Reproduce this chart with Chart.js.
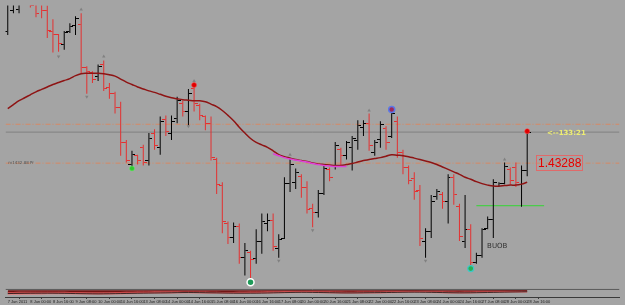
<!DOCTYPE html>
<html>
<head>
<meta charset="utf-8">
<script src="https://cdn.jsdelivr.net/npm/chart.js@4.4.0/dist/chart.umd.min.js"></script>
<style>
html, body { margin: 0; padding: 0; background: #a4a4a4; overflow: hidden; }
canvas { display: block; background: #a4a4a4; }
</style>
</head>
<body>
<canvas id="priceChart" width="625" height="305"></canvas>
<script>
// EURUSD H4, 7 Jun - 28 Jun 2011, one entry per bar
const opens = [1.4598,1.4640,1.4642,1.4690,1.4680,1.4654,1.4658,1.4640,1.4598,1.4590,
1.4570,1.4598,1.4610,1.4612,1.4524,1.4514,1.4506,1.4530,1.4482,1.4470,
1.4442,1.4370,1.4326,1.4344,1.4360,1.4334,1.4390,1.4360,1.4418,1.4390,
1.4420,1.4450,1.4434,1.4480,1.4446,1.4424,1.4410,1.4336,1.4284,1.4206,
1.4178,1.4200,1.4136,1.4146,1.4134,1.4170,1.4206,1.4212,1.4154,1.4176,
1.4288,1.4290,1.4302,1.4280,1.4236,1.4228,1.4266,1.4316,1.4324,1.4356,
1.4344,1.4360,1.4374,1.4402,1.4410,1.4350,1.4376,1.4400,1.4384,1.4414,
1.4350,1.4320,1.4298,1.4274,1.4170,1.4190,1.4260,1.4264,1.4250,1.4300,
1.4240,1.4170,1.4194,1.4126,1.4140,1.4196,1.4214,1.4282,1.4288,1.4316,
1.4320,1.4286,1.4314];
const highs = [1.4680,1.4670,1.4674,1.4700,1.4690,1.4660,1.4666,1.4650,1.4622,1.4592,
1.4598,1.4614,1.4628,1.4634,1.4526,1.4516,1.4530,1.4538,1.4492,1.4474,
1.4454,1.4376,1.4354,1.4346,1.4366,1.4390,1.4398,1.4424,1.4426,1.4426,
1.4464,1.4456,1.4480,1.4490,1.4450,1.4426,1.4424,1.4340,1.4290,1.4210,
1.4208,1.4206,1.4166,1.4150,1.4194,1.4226,1.4226,1.4226,1.4184,1.4300,
1.4340,1.4318,1.4306,1.4292,1.4246,1.4274,1.4326,1.4320,1.4372,1.4360,
1.4374,1.4384,1.4416,1.4416,1.4430,1.4376,1.4414,1.4404,1.4436,1.4424,
1.4356,1.4324,1.4310,1.4284,1.4196,1.4264,1.4276,1.4270,1.4306,1.4306,
1.4246,1.4264,1.4204,1.4146,1.4196,1.4220,1.4296,1.4290,1.4330,1.4320,
1.4330,1.4324,1.4394];
const lows = [1.4590,1.4634,1.4634,1.4652,1.4646,1.4626,1.4624,1.4584,1.4554,1.4556,
1.4560,1.4594,1.4590,1.4512,1.4470,1.4492,1.4496,1.4476,1.4460,1.4430,
1.4344,1.4330,1.4318,1.4326,1.4324,1.4324,1.4356,1.4346,1.4384,1.4376,
1.4410,1.4424,1.4406,1.4434,1.4416,1.4396,1.4334,1.4266,1.4186,1.4164,
1.4166,1.4124,1.4100,1.4088,1.4124,1.4144,1.4190,1.4150,1.4136,1.4174,
1.4270,1.4276,1.4258,1.4226,1.4198,1.4218,1.4264,1.4292,1.4316,1.4324,
1.4336,1.4314,1.4356,1.4384,1.4354,1.4344,1.4360,1.4356,1.4380,1.4340,
1.4306,1.4286,1.4254,1.4160,1.4136,1.4176,1.4254,1.4236,1.4206,1.4244,
1.4170,1.4156,1.4120,1.4124,1.4136,1.4194,1.4176,1.4280,1.4286,1.4286,
1.4280,1.4240,1.4302];
const closes = [1.4660,1.4656,1.4662,1.4666,1.4650,1.4634,1.4640,1.4600,1.4590,1.4572,
1.4596,1.4608,1.4624,1.4524,1.4516,1.4500,1.4526,1.4480,1.4470,1.4442,
1.4370,1.4334,1.4346,1.4334,1.4330,1.4380,1.4364,1.4414,1.4394,1.4414,
1.4456,1.4434,1.4470,1.4450,1.4426,1.4410,1.4340,1.4286,1.4210,1.4178,
1.4200,1.4136,1.4150,1.4132,1.4170,1.4210,1.4212,1.4158,1.4174,1.4288,
1.4326,1.4310,1.4280,1.4234,1.4228,1.4266,1.4318,1.4300,1.4364,1.4344,
1.4370,1.4378,1.4406,1.4410,1.4364,1.4370,1.4408,1.4370,1.4430,1.4350,
1.4320,1.4294,1.4270,1.4176,1.4190,1.4250,1.4270,1.4250,1.4300,1.4264,
1.4180,1.4194,1.4126,1.4140,1.4194,1.4214,1.4290,1.4288,1.4322,1.4294,
1.4290,1.4314,1.4392];
// moving average (dark red curve)
const ma = [1.4440,1.4448,1.4456,1.4462,1.4468,1.4474,1.4479,1.4484,1.4489,1.4493,
1.4497,1.4501,1.4507,1.4511,1.4512,1.4512,1.4512,1.4511,1.4509,1.4506,
1.4500,1.4494,1.4489,1.4484,1.4480,1.4476,1.4473,1.4469,1.4465,1.4462,
1.4460,1.4458,1.4457,1.4456,1.4456,1.4454,1.4449,1.4444,1.4436,1.4426,
1.4415,1.4402,1.4390,1.4379,1.4371,1.4366,1.4361,1.4354,1.4346,1.4342,
1.4339,1.4336,1.4334,1.4332,1.4329,1.4327,1.4326,1.4325,1.4324,1.4324,
1.4326,1.4328,1.4331,1.4334,1.4336,1.4338,1.4340,1.4343,1.4346,1.4345,
1.4344,1.4342,1.4339,1.4336,1.4333,1.4330,1.4326,1.4321,1.4316,1.4311,
1.4306,1.4300,1.4296,1.4291,1.4287,1.4284,1.4282,1.4282,1.4283,1.4284,
1.4284,1.4286,1.4290];
// magenta stretch on the average
const pinkStart = 47;
const pinkLine = [1.4348,1.4344,1.4340,1.4337,1.4335,1.4333,1.4331,1.4328,1.4326,1.4324,1.4323,1.4322,1.4322,1.4322];

// time axis, one label every 4 bars
const tickStep = 4;
const tickLabels = ['7 Jun 2011','8 Jun 00:00','8 Jun 16:00','9 Jun 08:00','10 Jun 00:00','10 Jun 16:00',
  '13 Jun 08:00','14 Jun 00:00','14 Jun 16:00','15 Jun 08:00','16 Jun 00:00','16 Jun 16:00',
  '17 Jun 08:00','20 Jun 00:00','20 Jun 16:00','21 Jun 08:00','22 Jun 00:00','22 Jun 16:00',
  '23 Jun 08:00','24 Jun 00:00','24 Jun 16:00','27 Jun 08:00','28 Jun 00:00','28 Jun 16:00'];

// levels
const pivotLevel = 1.43288;
const upperLevel = 1.4408;
const bidLevel = 1.4392;
const greenLevel = 1.4242;
const greenFrom = 83, greenTo = 95;

// marks on bars
const upFractalBars = [13, 17, 33, 50, 64, 88];
const upFractalVals = [1.4642, 1.4546, 1.4496, 1.4346, 1.4436, 1.4336];
const downFractalBars = [9, 14, 32, 48, 54, 74];
const downFractalVals = [1.4546, 1.4464, 1.4404, 1.4130, 1.4192, 1.4130];
const redDotBars = [33, 92];
const redDotVals = [1.4488, 1.4394];
const blueDotBars = [68];
const blueDotVals = [1.4438];
const greenDotBars = [22];
const greenDotVals = [1.4318];
const ringDotBars = [43];
const ringDotVals = [1.4086];
const tealDotBars = [82];
const tealDotVals = [1.4114];

// sub window oscillator, sampled every 4 bars
const indDark = [0.72,0.75,0.78,0.74,0.7,0.74,0.8,0.84,0.8,0.78,0.74,0.8,0.84,0.86,0.82,0.78,0.8,0.84,0.86,0.82,0.78,0.82,0.86,0.88];
const indRed = [0.35,0.4,0.45,0.42,0.38,0.42,0.5,0.55,0.58,0.52,0.48,0.52,0.58,0.62,0.58,0.52,0.56,0.6,0.64,0.6,0.55,0.6,0.64,0.68];
const indLine = [0.5,0.55,0.55,0.5,0.45,0.5,0.55,0.6,0.65,0.6,0.55,0.55,0.62,0.68,0.64,0.58,0.62,0.66,0.7,0.66,0.6,0.64,0.7,0.76];

// texts
const timerText = '<--133:21';
const timerAt = { x: 95.5, y: 1.4389 };
const signalText = 'BUOB';
const signalAt = { x: 84.9, y: 1.4159 };
const leftText = 'm1432.88 Pr';
const leftAt = { x: 0.1, y: 1.4330 };
const boxAt = 93.6;

const xMin = -0.4, xMax = 108.35;
const RED = 'rgb(228,48,48)';
const BLACK = '#000000';

function tickImg(color, left) {
    const c = document.createElement('canvas');
    c.width = 7;
    c.height = 1;
    const g = c.getContext('2d');
    g.fillStyle = color;
    g.fillRect(left ? 0 : 4, 0, 3, 1);
    return c;
}
const openRed = tickImg(RED, true), openBlack = tickImg(BLACK, true);
const closeRed = tickImg(RED, false), closeBlack = tickImg(BLACK, false);

const isUp = i => closes[i] >= opens[i];
const pts = (idx, vals) => idx.map((b, k) => ({ x: b, y: vals[k] }));
const hline = (y, a, b) => [{ x: a, y: y }, { x: b, y: y }];
const indX = i => i * tickStep;

const notes = {
    id: 'notes',
    afterDatasetsDraw(chart) {
        const { ctx, scales: { x, y } } = chart;
        ctx.save();
        // level box
        const bx = x.getPixelForValue(boxAt), by = y.getPixelForValue(pivotLevel);
        const boxText = pivotLevel.toFixed(5);
        ctx.font = '12px "Liberation Sans", Arial, sans-serif';
        const w = ctx.measureText(boxText).width;
        ctx.strokeStyle = '#e06a6a';
        ctx.lineWidth = 1;
        ctx.strokeRect(Math.round(bx) + 0.5, Math.round(by) - 7.5, Math.round(w) + 3, 15);
        ctx.fillStyle = '#e60000';
        ctx.textBaseline = 'middle';
        ctx.textAlign = 'left';
        ctx.fillText(boxText, Math.round(bx) + 2, Math.round(by) + 1);
        // timer
        ctx.font = 'bold 7px "DejaVu Sans", sans-serif';
        ctx.fillStyle = '#eeee70';
        ctx.fillText(timerText, x.getPixelForValue(timerAt.x), y.getPixelForValue(timerAt.y));
        // signal
        ctx.font = '7px "DejaVu Sans", sans-serif';
        ctx.fillStyle = '#303030';
        ctx.fillText(signalText, x.getPixelForValue(signalAt.x), y.getPixelForValue(signalAt.y));
        // left level tag
        ctx.font = '4px "DejaVu Sans", sans-serif';
        ctx.fillStyle = '#505050';
        ctx.fillText(leftText, x.getPixelForValue(leftAt.x), y.getPixelForValue(leftAt.y));
        ctx.restore();
    }
};

const ctx = document.getElementById('priceChart').getContext('2d');
const chart = new Chart(ctx, {
    type: 'bar',
    data: {
        datasets: [
            {
                type: 'line', label: 'upper', order: 20,
                data: hline(upperLevel, xMin, xMax),
                borderColor: 'rgb(214,136,100)', borderWidth: 1, borderDash: [5, 2, 1, 2],
                pointRadius: 0
            },
            {
                type: 'line', label: 'pivot', order: 20,
                data: hline(pivotLevel, xMin, xMax),
                borderColor: 'rgb(214,136,100)', borderWidth: 1, borderDash: [5, 2, 1, 2],
                pointRadius: 0
            },
            {
                type: 'line', label: 'bid', order: 20,
                data: hline(bidLevel, xMin, xMax),
                borderColor: 'rgb(128,128,128)', borderWidth: 1,
                pointRadius: 0
            },
            {
                type: 'line', label: 'green', order: 19,
                data: hline(greenLevel, greenFrom, greenTo),
                borderColor: '#33d633', borderWidth: 1,
                pointRadius: 0
            },
            {
                label: 'range', order: 10,
                data: opens.map((_, i) => ({ x: i, y: [lows[i], highs[i]] })),
                backgroundColor: opens.map((_, i) => isUp(i) ? BLACK : RED),
                barThickness: 1,
                borderWidth: 0,
                inflateAmount: 0
            },
            {
                type: 'line', label: 'open', order: 9, showLine: false,
                data: opens.map((v, i) => ({ x: i, y: v })),
                pointStyle: c => isUp(c.dataIndex) ? openBlack : openRed,
                pointRadius: 3
            },
            {
                type: 'line', label: 'close', order: 9, showLine: false,
                data: closes.map((v, i) => ({ x: i, y: v })),
                pointStyle: c => isUp(c.dataIndex) ? closeBlack : closeRed,
                pointRadius: 3
            },
            {
                type: 'line', label: 'MA', order: 5,
                data: ma.map((v, i) => ({ x: i, y: v })),
                borderColor: '#8e1414', borderWidth: 1.5, tension: 0.4,
                pointRadius: 0
            },
            {
                type: 'line', label: 'pink', order: 4,
                data: pinkLine.map((v, k) => ({ x: pinkStart + k, y: v })),
                borderColor: '#e040d8', borderWidth: 1.5, tension: 0.4,
                pointRadius: 0
            },
            {
                type: 'line', label: 'fractal up', order: 3, showLine: false,
                data: pts(upFractalBars, upFractalVals),
                pointStyle: 'triangle', pointRadius: 2,
                backgroundColor: 'rgba(125,125,125,0.9)', borderWidth: 0
            },
            {
                type: 'line', label: 'fractal down', order: 3, showLine: false,
                data: pts(downFractalBars, downFractalVals),
                pointStyle: 'triangle', pointRotation: 180, pointRadius: 2,
                backgroundColor: 'rgba(125,125,125,0.9)', borderWidth: 0
            },
            {
                type: 'line', label: 'red dots', order: 2, showLine: false,
                data: pts(redDotBars, redDotVals),
                pointRadius: 2.5, backgroundColor: '#e00000', borderColor: '#ff5050', borderWidth: 0.5
            },
            {
                type: 'line', label: 'blue dot', order: 2, showLine: false,
                data: pts(blueDotBars, blueDotVals),
                pointRadius: 3, backgroundColor: '#a02858', borderColor: '#5a78e8', borderWidth: 1.5
            },
            {
                type: 'line', label: 'green dot', order: 2, showLine: false,
                data: pts(greenDotBars, greenDotVals),
                pointRadius: 2.5, backgroundColor: '#30c830', borderColor: '#70f070', borderWidth: 0.5
            },
            {
                type: 'line', label: 'ring dot', order: 2, showLine: false,
                data: pts(ringDotBars, ringDotVals),
                pointRadius: 3.5, backgroundColor: '#1e9a58', borderColor: '#ffffff', borderWidth: 1.5
            },
            {
                type: 'line', label: 'teal dot', order: 2, showLine: false,
                data: pts(tealDotBars, tealDotVals),
                pointRadius: 3, backgroundColor: '#28b050', borderColor: '#40c8c8', borderWidth: 1.2
            },
            {
                type: 'line', label: 'ind dark', order: 8, yAxisID: 'y2',
                data: indDark.map((v, k) => ({ x: indX(k), y: v })),
                borderColor: '#701414', borderWidth: 1, backgroundColor: '#741616',
                fill: { value: 1 }, pointRadius: 0, tension: 0.3
            },
            {
                type: 'line', label: 'ind red', order: 7, yAxisID: 'y2',
                data: indRed.map((v, k) => ({ x: indX(k), y: v })),
                borderColor: '#d88888', borderWidth: 1, backgroundColor: '#c84a4a',
                fill: '-1', pointRadius: 0, tension: 0.3
            },
            {
                type: 'line', label: 'ind line', order: 6, yAxisID: 'y2',
                data: indLine.map((v, k) => ({ x: indX(k), y: v })),
                borderColor: '#181818', borderWidth: 0.8,
                pointRadius: 0, tension: 0.3
            },
            {
                type: 'line', label: 'sub border', order: 6, yAxisID: 'y2',
                data: hline(1.1, xMin, xMax),
                borderColor: '#5a5a5a', borderWidth: 1, pointRadius: 0
            }
        ]
    },
    options: {
        responsive: false,
        animation: false,
        devicePixelRatio: 1,
        layout: { padding: 0 },
        plugins: {
            legend: { display: false },
            tooltip: { enabled: false }
        },
        scales: {
            x: {
                type: 'linear',
                min: xMin,
                max: xMax,
                offset: false,
                afterBuildTicks: s => { s.ticks = tickLabels.map((_, k) => ({ value: k * tickStep })); },
                afterFit: s => { s.height = 8; },
                grid: { drawOnChartArea: false, drawTicks: true, tickLength: 2, color: '#3a3a3a' },
                border: { display: true, color: '#3a3a3a' },
                ticks: {
                    autoSkip: false,
                    maxRotation: 0,
                    align: 'start',
                    padding: 0,
                    color: '#202020',
                    font: { size: 4, family: '"Liberation Sans Narrow", "Liberation Sans", sans-serif' },
                    callback: v => tickLabels[v / tickStep] ?? ''
                }
            },
            y: {
                display: false,
                min: 1.4056,
                max: 1.4650
            },
            y2: {
                display: false,
                min: 0,
                max: 42.43
            }
        }
    },
    plugins: [notes]
});
</script>
</body>
</html>
